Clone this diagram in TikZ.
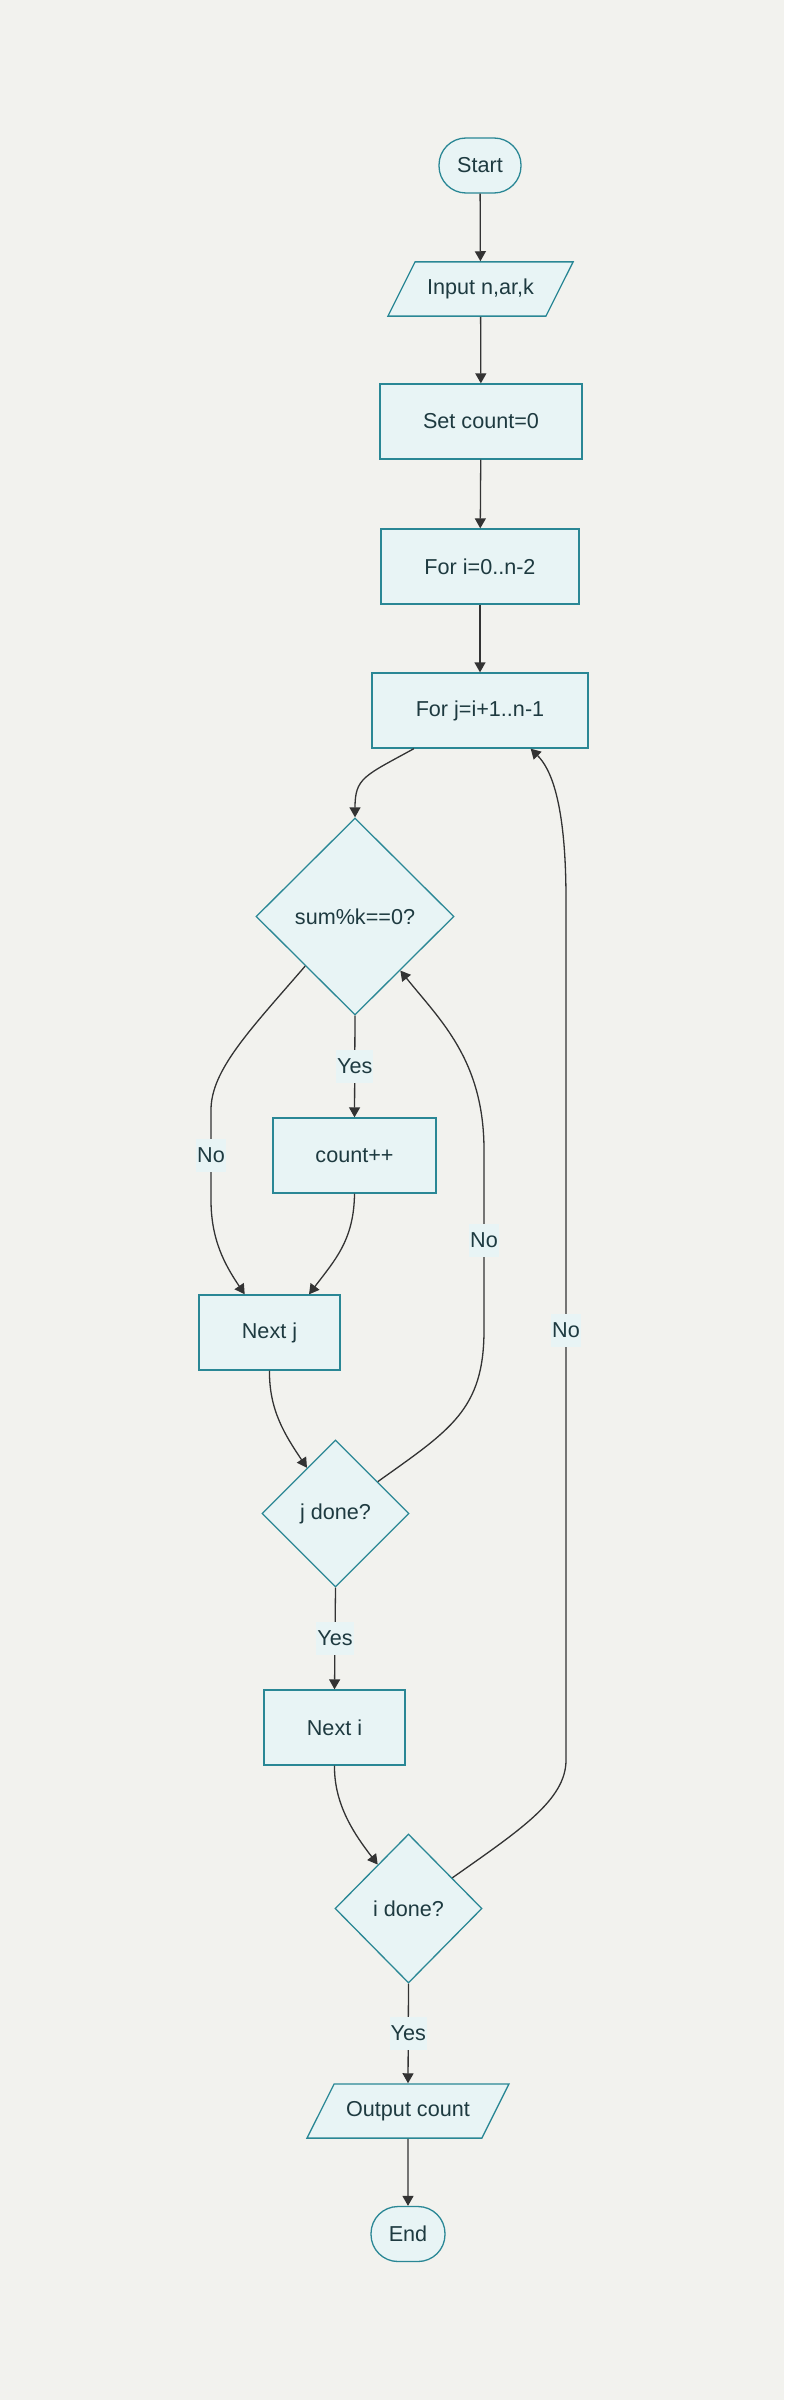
\documentclass[tikz,border=0pt]{standalone}
\usepackage{fontspec}
\setmainfont{Liberation Sans}
\usetikzlibrary{shapes.geometric,arrows.meta}
\definecolor{bgcol}{HTML}{F2F2EE}
\definecolor{boxfill}{HTML}{E8F4F5}
\definecolor{boxline}{HTML}{2A8795}
\definecolor{txtcol}{HTML}{1E3A40}
\definecolor{linecol}{HTML}{333333}
\begin{document}
\begin{tikzpicture}[x=1pt,y=-1pt,
    every node/.style={font=\fontsize{21.6}{26}\selectfont, text=txtcol},
    box/.style={draw=boxline, fill=boxfill, line width=1.3pt, inner sep=0pt},
    term/.style={box, rectangle, rounded corners=27pt, minimum height=55pt},
    io/.style={box, trapezium, trapezium left angle=63.4, trapezium right angle=116.6,
               inner xsep=12pt, inner ysep=17pt, text height=15.7pt, text depth=4.5pt},
    proc/.style={box, rectangle, minimum height=75pt},
    decision/.style={box, diamond, aspect=1},
    lbl/.style={fill=boxfill, inner sep=1pt, minimum height=33pt},
    flow/.style={draw=linecol, line width=1.3pt, -{Triangle[length=10pt,width=11pt]}}]
  \fill[bgcol] (0,0) rectangle (784,2400);

  \node[term, minimum width=82pt] (start) at (480,165.5) {Start};
  \node[io] (input) at (480.5,289) {Input n,ar,k};
  \node[proc, minimum width=202pt] (setcount) at (481,421.5) {Set count=0};
  \node[proc, minimum width=198pt] (fori) at (480,566.5) {For i=0..n-2};
  \node[proc, minimum width=216pt] (forj) at (480,710.5) {For j=i+1..n-1};
  \node[decision, minimum width=198pt, minimum height=197pt] (summod) at (355,916.5) {sum\%k==0?};
  \node[proc, minimum width=163pt] (countinc) at (354.5,1155.5) {count++};
  \node[proc, minimum width=141pt] (nextj) at (269.5,1332.5) {Next j};
  \node[decision, minimum width=147pt, minimum height=147pt] (jdone) at (335.5,1513.5) {j done?};
  \node[proc, minimum width=141pt] (nexti) at (334.5,1727.5) {Next i};
  \node[decision, minimum width=147pt, minimum height=149pt] (idone) at (408.5,1908.5) {i done?};
  \node[io] (output) at (408,2111) {Output count};
  \node[term, minimum width=74pt] (finish) at (408,2234) {End};

  \draw[flow] (start) -- (input);
  \draw[flow] (input) -- (setcount);
  \draw[flow] (setcount) -- (fori);
  \draw[flow] (fori) -- (forj);
  \draw[flow] (forj.210) .. controls (364,776) and (355,778) .. (summod.north);
  \draw[flow] (summod.south) -- node[lbl] {Yes} (countinc.north);
  \draw[flow] (summod.south west) .. controls (250,1030) and (211,1070) .. (211,1110)
    -- node[lbl] {No} (211,1200) .. controls (211,1240) and (225,1265) .. (nextj.123);
  \draw[flow] (countinc.south) .. controls (354,1240) and (335,1260) .. (nextj.44);
  \draw[flow] (nextj.south) .. controls (269,1410) and (285,1435) .. (jdone.122);
  \draw[flow] (jdone.37) .. controls (450,1430) and (484,1410) .. (484,1330)
    -- node[lbl] {No} (484,1150) .. controls (484,1060) and (440,1020) .. (summod.310);
  \draw[flow] (jdone.south) -- node[lbl] {Yes} (nexti.north);
  \draw[flow] (nexti.south) .. controls (334,1805) and (355,1835) .. (idone.125);
  \draw[flow] (idone.35) .. controls (520,1830) and (566,1800) .. (566,1760)
    -- node[lbl] {No} (566,900) .. controls (566,800) and (550,768) .. (forj.-37);
  \draw[flow] (idone.south) -- node[lbl] {Yes} (output.north);
  \draw[flow] (output) -- (finish);
\end{tikzpicture}
\end{document}
